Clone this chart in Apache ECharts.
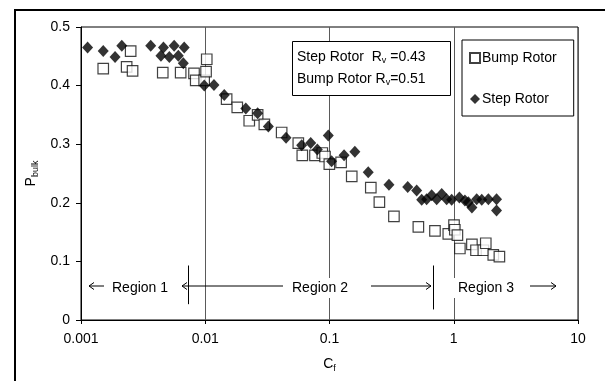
<!DOCTYPE html>
<html>
<head>
<meta charset="utf-8">
<script src="https://cdn.jsdelivr.net/npm/echarts@6/dist/echarts.min.js"></script>
<style>
  html, body { margin: 0; padding: 0; background: #fff; }
  #chart { width: 605px; height: 381px; }
</style>
</head>
<body>
<div id="chart"></div>
<script>
// Bulk mixing probability versus flow coefficient for two rotor designs
const bumpCf = [0.00151, 0.00233, 0.00251, 0.0026, 0.00455, 0.00634, 0.00812, 0.00838, 0.0098, 0.01015,
  0.01028, 0.01486, 0.0181, 0.0226, 0.0264, 0.0299, 0.0412, 0.0561, 0.0604, 0.0764,
  0.0875, 0.092, 0.0997, 0.124, 0.151, 0.215, 0.252, 0.330, 0.519, 0.706,
  0.904, 1.005, 1.02, 1.07, 1.12, 1.40, 1.51, 1.73, 1.81, 2.08, 2.33];
const bumpP = [0.429, 0.432, 0.459, 0.425, 0.422, 0.422, 0.421, 0.409, 0.409, 0.424,
  0.445, 0.377, 0.363, 0.340, 0.350, 0.334, 0.320, 0.302, 0.281, 0.281,
  0.285, 0.279, 0.266, 0.269, 0.245, 0.226, 0.201, 0.177, 0.159, 0.152,
  0.147, 0.162, 0.154, 0.145, 0.122, 0.129, 0.119, 0.119, 0.131, 0.111, 0.108];

const stepCf = [0.00113, 0.00151, 0.00188, 0.00213, 0.00364, 0.0044, 0.00461, 0.00514, 0.00562, 0.00607,
  0.00666, 0.00677, 0.00982, 0.01175, 0.01422, 0.0212, 0.0264, 0.0322, 0.0447, 0.0597,
  0.0706, 0.0798, 0.0978, 0.104, 0.131, 0.160, 0.205, 0.301, 0.426, 0.503,
  0.552, 0.605, 0.664, 0.729, 0.80, 0.877, 0.962, 1.11, 1.23, 1.31,
  1.40, 1.53, 1.68, 1.90, 2.21, 2.21];
const stepP = [0.465, 0.459, 0.449, 0.468, 0.468, 0.451, 0.465, 0.449, 0.468, 0.451,
  0.438, 0.465, 0.400, 0.401, 0.384, 0.361, 0.353, 0.330, 0.311, 0.298,
  0.302, 0.291, 0.315, 0.271, 0.281, 0.287, 0.252, 0.231, 0.227, 0.221,
  0.205, 0.206, 0.213, 0.206, 0.215, 0.206, 0.205, 0.209, 0.204, 0.201,
  0.192, 0.206, 0.205, 0.206, 0.206, 0.187];

// Boundaries between the three flow regions (in Cf)
const regionBounds = [0.0073, 0.68];
const regionNames = ['Region 1', 'Region 2', 'Region 3'];
const seriesNames = ['Bump Rotor', 'Step Rotor'];

const FONT = 'Liberation Sans, Arial, sans-serif';
const chart = echarts.init(document.getElementById('chart'), null, { renderer: 'canvas' });

const pairs = (xs, ys) => xs.map((x, i) => [x, ys[i]]);

const option = {
  animation: false,
  backgroundColor: '#fff',
  textStyle: { fontFamily: FONT, color: '#000' },
  grid: {
    left: 81, right: 27, top: 27, bottom: 61,
    show: true, borderColor: '#000', borderWidth: 1, backgroundColor: 'transparent'
  },
  xAxis: {
    type: 'log', logBase: 10, min: 0.001, max: 10,
    name: 'C{sub|f}', nameLocation: 'middle', nameGap: 36,
    nameTextStyle: {
      fontSize: 14, fontFamily: FONT, color: '#000',
      rich: { sub: { fontSize: 9, fontFamily: FONT, color: '#000', padding: [8, 0, 0, 0] } }
    },
    axisLine: { lineStyle: { color: '#000', width: 1 } },
    axisTick: { show: true, inside: false, length: 4, lineStyle: { color: '#000' } },
    axisLabel: {
      fontSize: 14, fontFamily: FONT, color: '#000', margin: 12,
      formatter: v => String(+(+v).toPrecision(1))
    },
    splitLine: { show: true, lineStyle: { color: '#5a5a5a', width: 1 } },
    minorTick: { show: false }
  },
  yAxis: {
    type: 'value', min: 0, max: 0.5, interval: 0.1,
    name: 'P{sub|bulk}', nameLocation: 'middle', nameGap: 41, nameRotate: 90,
    nameTextStyle: {
      fontSize: 14, fontFamily: FONT, color: '#000',
      rich: { sub: { fontSize: 9, fontFamily: FONT, color: '#000', padding: [8, 0, 0, 0] } }
    },
    axisLine: { show: true, lineStyle: { color: '#000', width: 1 } },
    axisTick: { show: true, inside: false, length: 5, lineStyle: { color: '#000' } },
    axisLabel: {
      fontSize: 14, fontFamily: FONT, color: '#000', margin: 11,
      formatter: v => String(+(+v).toFixed(1))
    },
    splitLine: { show: false }
  },
  legend: {
    orient: 'vertical', left: 462, top: 40,
    width: 109,
    data: [
      { name: seriesNames[0], icon: 'rect' },
      { name: seriesNames[1], icon: 'diamond' }
    ],
    itemWidth: 10, itemHeight: 10, itemGap: 27,
    padding: [11, 17, 10, 7],
    borderColor: '#000', borderWidth: 1, backgroundColor: '#fff',
    textStyle: { fontSize: 14, fontFamily: FONT, color: '#000', padding: [0, 0, 0, -3] }
  },
  series: [
    {
      name: seriesNames[0], type: 'scatter', z: 3,
      symbol: 'rect', symbolSize: 10.5,
      itemStyle: { color: '#fff', borderColor: '#111', borderWidth: 1.2 },
      data: pairs(bumpCf, bumpP),
      markLine: {
        silent: true, symbol: 'none', label: { show: false },
        lineStyle: { color: '#000', width: 1, type: 'solid' },
        data: [
          [{ coord: [regionBounds[0], 0.093] }, { coord: [regionBounds[0], 0.027] }],
          [{ coord: [regionBounds[1], 0.093] }, { coord: [regionBounds[1], 0.018] }]
        ]
      }
    },
    {
      name: seriesNames[1], type: 'scatter', z: 4,
      symbol: 'diamond', symbolSize: [11, 12],
      itemStyle: { color: '#000' },
      data: pairs(stepCf, stepP)
    }
  ],
  graphic: []
};

chart.setOption(option);

// Region labels with arrows along the bottom of the plot
const yMid = 288;
const g = [];
function arrow(x1, x2, y) {
  // shaft from x1 to x2, head at x2
  const d = x2 > x1 ? -1 : 1;
  g.push({ type: 'line', z: 10, shape: { x1, y1: y, x2, y2: y }, style: { stroke: '#000', lineWidth: 1 } });
  g.push({ type: 'polyline', z: 10, shape: { points: [[x2 + d * 5, y - 3.5], [x2, y], [x2 + d * 5, y + 3.5]] }, style: { stroke: '#000', lineWidth: 1, fill: null } });
}
function label(text, x1, x2) {
  g.push({ type: 'rect', z: 9, shape: { x: x1, y: yMid - 10, width: x2 - x1, height: 20 }, style: { fill: '#fff' } });
  g.push({ type: 'text', z: 11, x: (x1 + x2) / 2, y: yMid, style: { text, font: '14px ' + FONT, fill: '#000', align: 'center', verticalAlign: 'middle' } });
}
label(regionNames[0], 109, 171);
arrow(104, 89, yMid - 2);
label(regionNames[1], 287, 353);
arrow(283, 182, yMid - 2);
arrow(371, 431, yMid - 2);
label(regionNames[2], 452, 520);
arrow(530, 556, yMid - 2);

// Correlation annotation box
g.push({ type: 'rect', z: 12, shape: { x: 292.5, y: 41.5, width: 158, height: 54 }, style: { fill: '#fff', stroke: '#000', lineWidth: 1 } });
g.push({
  type: 'text', z: 13, x: 297, y: 46,
  style: {
    text: 'Step Rotor  R{sub|v} =0.43\nBump Rotor R{sub|v}=0.51',
    font: '14px ' + FONT, fill: '#000', lineHeight: 22,
    rich: {
      sub: { font: '9px ' + FONT, fill: '#000', padding: [8, 0, 0, 0] }
    }
  }
});

// Outer frame
g.push({ type: 'rect', z: 20, shape: { x: 15, y: 10, width: 700, height: 500 }, style: { fill: null, stroke: '#000', lineWidth: 2 } });

chart.setOption({ graphic: g });
</script>
</body>
</html>
